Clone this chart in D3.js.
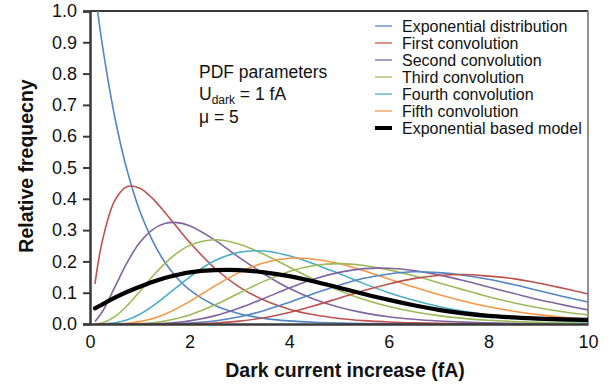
<!DOCTYPE html>
<html>
<head>
<meta charset="utf-8">
<script src="https://cdn.jsdelivr.net/npm/d3@7"></script>
<style>
  html, body { margin: 0; padding: 0; background: #fff; }
  svg { display: block; font-family: "Liberation Sans", Arial, sans-serif; }
</style>
</head>
<body>
<svg id="chart" width="610" height="388"></svg>
<script>
// Dark current increase (fA) sample points
const xValues = [0.1, 0.25, 0.5, 0.75, 1, 1.25, 1.5, 1.75, 2, 2.5, 3, 3.5, 4, 4.5, 5, 5.5, 6, 6.5, 7, 7.5, 8, 8.5, 9, 9.5, 10];

// Relative frequency of each distribution at the sample points
const expDist = [1.064, 0.889, 0.659, 0.488, 0.361, 0.268, 0.198, 0.147, 0.109, 0.0598, 0.0328, 0.018, 0.0099, 0.0054, 0.003, 0.0016, 0.0009, 0.0005, 0.0003, 0.00015, 0.0001, 0, 0, 0, 0];
const conv1 = [0.128, 0.267, 0.395, 0.439, 0.434, 0.402, 0.357, 0.309, 0.261, 0.179, 0.118, 0.0756, 0.0474, 0.0293, 0.0178, 0.0108, 0.0065, 0.0038, 0.0023, 0.0013, 0.0008, 0.00045, 0.0003, 0.00015, 0.0001];
const conv2 = [0.0077, 0.040, 0.1185, 0.1976, 0.260, 0.301, 0.321, 0.324, 0.314, 0.269, 0.212, 0.159, 0.114, 0.079, 0.0535, 0.0355, 0.0232, 0.015, 0.0095, 0.006, 0.0037, 0.0023, 0.0014, 0.0009, 0.0005];
const conv3 = [0.0003, 0.004, 0.0237, 0.0593, 0.104, 0.151, 0.193, 0.227, 0.251, 0.269, 0.255, 0.222, 0.182, 0.142, 0.107, 0.0782, 0.0557, 0.0389, 0.0267, 0.018, 0.012, 0.0079, 0.0051, 0.0033, 0.0021];
const conv4 = [0, 0.0003, 0.0036, 0.0133, 0.0312, 0.0565, 0.0868, 0.119, 0.150, 0.202, 0.229, 0.233, 0.218, 0.192, 0.161, 0.129, 0.100, 0.0758, 0.056, 0.0405, 0.0288, 0.0201, 0.0139, 0.0095, 0.0064];
const conv5 = [0, 0, 0.0004, 0.0024, 0.0075, 0.0169, 0.0312, 0.050, 0.0722, 0.121, 0.165, 0.196, 0.210, 0.207, 0.193, 0.170, 0.144, 0.118, 0.094, 0.0729, 0.0552, 0.041, 0.030, 0.0216, 0.0153];
const conv6 = [0, 0, 0, 0.0004, 0.0015, 0.0042, 0.0094, 0.0175, 0.0289, 0.0605, 0.0991, 0.137, 0.168, 0.187, 0.193, 0.187, 0.173, 0.154, 0.132, 0.109, 0.087, 0.068, 0.052, 0.039, 0.029];
const conv7 = [0, 0, 0, 0, 0.0003, 0.0009, 0.0024, 0.0053, 0.0099, 0.0259, 0.051, 0.0823, 0.115, 0.144, 0.165, 0.177, 0.178, 0.171, 0.157, 0.139, 0.118, 0.098, 0.078, 0.061, 0.045];
const conv8 = [0, 0, 0, 0, 0, 0.0002, 0.0005, 0.0014, 0.003, 0.0097, 0.0229, 0.0432, 0.069, 0.0972, 0.124, 0.146, 0.160, 0.167, 0.164, 0.156, 0.143, 0.126, 0.107, 0.088, 0.070];
const conv9 = [0, 0, 0, 0, 0, 0, 0.0001, 0.0003, 0.0008, 0.0032, 0.0092, 0.0202, 0.0368, 0.0583, 0.0826, 0.107, 0.128, 0.145, 0.155, 0.158, 0.153, 0.145, 0.131, 0.114, 0.096];
const modelValues = [0.05, 0.063, 0.084, 0.103, 0.119, 0.134, 0.147, 0.157, 0.165, 0.172, 0.172, 0.165, 0.153, 0.136, 0.116, 0.096, 0.077, 0.06, 0.045, 0.034, 0.026, 0.021, 0.017, 0.015, 0.013];

const yTicks = [0.0, 0.1, 0.2, 0.3, 0.4, 0.5, 0.6, 0.7, 0.8, 0.9, 1.0];
const xTicks = [0, 2, 4, 6, 8, 10];

const legendNames = ["Exponential distribution", "First convolution", "Second convolution", "Third convolution", "Fourth convolution", "Fifth convolution", "Exponential based model"];

const palette = {
  blue: "#5385c2", red: "#c0504d", purple: "#8064a2",
  green: "#9bbb59", cyan: "#4bacc6", orange: "#f79646"
};

// Thin coloured curves, in drawing order
const thinSeries = [
  { values: expDist, color: palette.blue },
  { values: conv1, color: palette.red },
  { values: conv2, color: palette.purple },
  { values: conv3, color: palette.green },
  { values: conv4, color: palette.cyan },
  { values: conv5, color: palette.orange },
  { values: conv6, color: palette.green },
  { values: conv7, color: palette.purple },
  { values: conv8, color: palette.blue },
  { values: conv9, color: palette.red }
];

const svg = d3.select("#chart");
const plotLeft = 90, plotRight = 588, plotTop = 11, plotBottom = 324;

const x = d3.scaleLinear().domain([0, 10]).range([plotLeft, plotRight]);
const y = d3.scaleLinear().domain([0, 1]).range([plotBottom, plotTop]);

svg.append("defs").append("clipPath").attr("id", "plotClip")
  .append("rect").attr("x", plotLeft).attr("y", plotTop)
  .attr("width", plotRight - plotLeft).attr("height", plotBottom - plotTop);

// Frame: top and right edges
svg.append("line").attr("x1", plotLeft).attr("x2", plotRight).attr("y1", plotTop).attr("y2", plotTop)
  .attr("stroke", "#3a3a3a").attr("stroke-width", 2);
svg.append("line").attr("x1", plotRight).attr("x2", plotRight).attr("y1", plotTop).attr("y2", plotBottom)
  .attr("stroke", "#6a6a6a").attr("stroke-width", 1.5);

const line = d3.line()
  .x(d => x(d[0]))
  .y(d => y(d[1]))
  .curve(d3.curveCatmullRom.alpha(0.5));

const plot = svg.append("g").attr("clip-path", "url(#plotClip)");

thinSeries.forEach(s => {
  plot.append("path")
    .datum(xValues.map((v, i) => [v, s.values[i]]))
    .attr("d", line)
    .attr("fill", "none")
    .attr("stroke", s.color)
    .attr("stroke-width", 1.6);
});

plot.append("path")
  .datum(xValues.map((v, i) => [v, modelValues[i]]))
  .attr("d", line)
  .attr("fill", "none")
  .attr("stroke", "#000")
  .attr("stroke-width", 4.2)
  .attr("stroke-linecap", "round");

// Axes
const yAxis = d3.axisLeft(y).tickValues(yTicks).tickFormat(d3.format(".1f")).tickSize(7).tickPadding(6);
const gy = svg.append("g").attr("transform", `translate(${plotLeft},0)`).call(yAxis);
gy.select(".domain").attr("stroke", "#3a3a3a").attr("stroke-width", 2.5);
gy.selectAll(".tick line").attr("stroke", "#3a3a3a").attr("stroke-width", 2);
gy.selectAll(".tick text").attr("font-size", 18).attr("fill", "#111")
  .attr("font-family", "Liberation Sans, Arial, sans-serif");

const xAxis = d3.axisBottom(x).tickValues(xTicks).tickFormat(d3.format("d")).tickSize(0).tickPadding(11);
const gx = svg.append("g").attr("transform", `translate(0,${plotBottom})`).call(xAxis);
gx.select(".domain").attr("stroke", "#3a3a3a").attr("stroke-width", 2.5);
gx.selectAll(".tick text").attr("font-size", 18).attr("fill", "#111")
  .attr("font-family", "Liberation Sans, Arial, sans-serif");

// Axis titles
svg.append("text").attr("x", 345).attr("y", 376.5).attr("text-anchor", "middle")
  .attr("font-size", 19.5).attr("font-weight", "bold").attr("fill", "#111")
  .text("Dark current increase (fA)");
svg.append("text").attr("transform", "translate(33,166) rotate(-90)").attr("text-anchor", "middle")
  .attr("font-size", 19.5).attr("font-weight", "bold").attr("fill", "#111")
  .text("Relative frequecny");

// Parameter annotation
const ann = svg.append("g").attr("font-size", 17.5).attr("fill", "#111");
ann.append("text").attr("x", 199).attr("y", 78).text("PDF parameters");
const u = ann.append("text").attr("x", 199).attr("y", 100);
u.append("tspan").text("U");
u.append("tspan").attr("font-size", 12).attr("dy", 4).text("dark");
u.append("tspan").attr("dy", -4).text(" = 1 fA");
ann.append("text").attr("x", 199).attr("y", 123).text("\u03bc = 5");

// Legend
const legendColors = [palette.blue, palette.red, palette.purple, palette.green, palette.cyan, palette.orange, "#000"];
const lg = svg.append("g");
legendNames.forEach((name, i) => {
  const ly = 26 + i * 17;
  lg.append("line").attr("x1", 375).attr("x2", 392).attr("y1", ly).attr("y2", ly)
    .attr("stroke", legendColors[i]).attr("stroke-width", i === 6 ? 4 : 1.8).attr("opacity", i === 6 ? 1 : 0.7);
  lg.append("text").attr("x", 402).attr("y", ly).attr("dy", "0.36em")
    .attr("font-size", 16).attr("fill", "#111").text(name);
});
</script>
</body>
</html>
